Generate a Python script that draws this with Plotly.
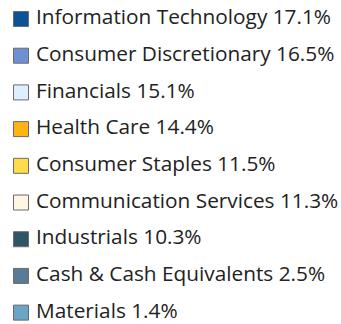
import plotly.graph_objects as go

# Sector allocation shown as a stand-alone legend
sectors = [
    "Information Technology", "Consumer Discretionary", "Financials",
    "Health Care", "Consumer Staples", "Communication Services",
    "Industrials", "Cash & Cash Equivalents", "Materials",
]
weights = [17.1, 16.5, 15.1, 14.4, 11.5, 11.3, 10.3, 2.5, 1.4]
colors = [
    "#0B5394", "#6D8FD3", "#DCEEFF", "#FDB515", "#FFDC4A",
    "#FFF5E3", "#2E5465", "#5A7B96", "#6AA5C5",
]

labels = [f"{s} {w:.1f}%" for s, w in zip(sectors, weights)]
rows = list(range(len(sectors)))

fig = go.Figure()
# colour swatches
fig.add_trace(go.Scatter(
    x=[0] * len(rows), y=rows, mode="markers",
    marker=dict(symbol="square", size=15, color=colors,
                line=dict(color="#6b6b6b", width=1)),
    hoverinfo="skip", showlegend=False,
))
# sector labels
fig.add_trace(go.Scatter(
    x=[15] * len(rows), y=rows, mode="text",
    text=labels, textposition="middle right",
    textfont=dict(family="Open Sans", size=20.8, color="#222222"),
    hoverinfo="skip", showlegend=False,
))

fig.update_xaxes(visible=False, range=[-21, 320], fixedrange=True)
fig.update_yaxes(visible=False, range=[8.31, -0.518], fixedrange=True)
fig.update_layout(
    width=341, height=324,
    margin=dict(l=0, r=0, t=0, b=0),
    paper_bgcolor="white", plot_bgcolor="white",
)

fig.write_html("out.html")
